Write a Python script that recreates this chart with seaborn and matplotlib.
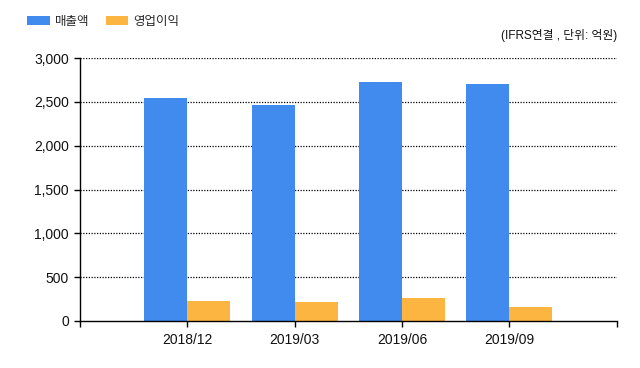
import matplotlib
matplotlib.use("Agg")
import matplotlib.pyplot as plt
import seaborn as sns
import pandas as pd
from matplotlib.patches import Patch

categories = ["2018/12", "2019/03", "2019/06", "2019/09"]
sales = [2544, 2464, 2726, 2703]
op_profit = [228, 217, 262, 160]
series_names = ["매출액", "영업이익"]
colors = ["#418BEE", "#FBB540"]
yticks = [0, 500, 1000, 1500, 2000, 2500, 3000]

sns.set_theme(style="white")
plt.rcParams['font.family'] = ['Liberation Sans', 'Noto Sans CJK KR', 'DejaVu Sans']

df = pd.DataFrame({
    "period": categories * 2,
    "value": sales + op_profit,
    "series": [series_names[0]] * 4 + [series_names[1]] * 4,
})

fig = plt.figure(figsize=(6.4, 3.68), dpi=100)
ax = fig.add_axes([80/640, 1-321/368, (616.5-80)/640, (321-58)/368])

sns.barplot(data=df, x="period", y="value", hue="series", palette=colors,
            width=0.8, saturation=1, ax=ax, legend=False, edgecolor="none")

ax.set_xlim(-1, 4)
ax.set_ylim(0, 3000)
ax.set_yticks(yticks)
ax.set_yticklabels([f"{v:,}" for v in yticks], fontsize=10, color="#111111")
ax.set_xticks(range(len(categories)))
ax.set_xticklabels(categories, fontsize=10, color="#111111")
ax.set_xticks([-1, 4], minor=True)
ax.tick_params(axis="both", which="both", direction="out", length=4, width=1, color="black", bottom=True, left=True)
ax.tick_params(axis="x", pad=5)
ax.tick_params(axis="y", pad=4)
ax.set_xlabel("")
ax.set_ylabel("")
for y in yticks[1:]:
    ax.axhline(y, color="black", linestyle=(0, (1, 1.2)), linewidth=0.9, zorder=0)
for s in ["top", "right"]:
    ax.spines[s].set_visible(False)
for s in ["left", "bottom"]:
    ax.spines[s].set_color("black")
    ax.spines[s].set_linewidth(1)

handles = [Patch(facecolor=c, edgecolor="none") for c in colors]
fig.legend(handles, series_names, loc="upper left", bbox_to_anchor=(26/640, 1-15/368),
           ncol=2, frameon=False, fontsize=9, handlelength=1.8, handleheight=0.75,
           handletextpad=0.4, columnspacing=1.3, borderaxespad=0, borderpad=0.1)
fig.text(617/640, 1-36/368, "(IFRS연결 , 단위: 억원)", ha="right", va="center", fontsize=8.5, color="#111111")

fig.savefig("out.png", dpi=100)
